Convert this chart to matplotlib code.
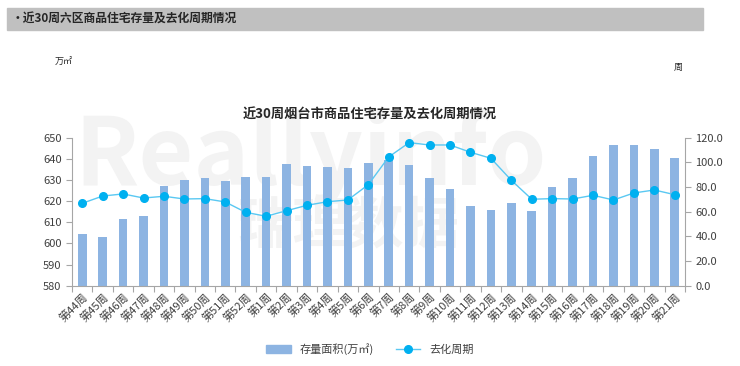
import numpy as np
import matplotlib
matplotlib.use("Agg")
import matplotlib.pyplot as plt
from matplotlib.lines import Line2D
from matplotlib.patches import Patch

plt.rcParams['font.family'] = ['Noto Sans CJK SC', 'DejaVu Sans']

weeks = ["第44周", "第45周", "第46周", "第47周", "第48周", "第49周", "第50周", "第51周",
         "第52周", "第1周", "第2周", "第3周", "第4周", "第5周", "第6周", "第7周", "第8周",
         "第9周", "第10周", "第11周", "第12周", "第13周", "第14周", "第15周", "第16周",
         "第17周", "第18周", "第19周", "第20周", "第21周"]
stock = [604.3, 602.9, 611.7, 612.8, 627.3, 630.0, 630.8, 629.4, 631.4, 631.4,
         637.6, 636.5, 636.1, 635.5, 638.0, 639.6, 637.2, 631.1, 625.7, 617.8,
         615.8, 619.3, 615.5, 626.7, 631.1, 641.4, 646.7, 646.4, 644.7, 640.3]
cycle = [66.8, 72.7, 74.4, 71.1, 72.5, 70.3, 70.6, 67.9, 59.5, 56.3,
         60.8, 65.2, 68.1, 69.5, 81.9, 104.4, 116.0, 114.1, 114.1, 108.2,
         103.3, 85.5, 70.1, 70.6, 70.3, 73.3, 69.5, 75.2, 77.6, 73.8]

bar_color = "#8db4e2"
line_color = "#00b0f0"
axis_color = "#a6a6a6"
text_color = "#404040"

fig = plt.figure(figsize=(7.4, 3.66), dpi=100)

# header strip
fig.patches.append(plt.Rectangle((7 / 740, 1 - 30 / 366), 696 / 740, 22 / 366,
                                 transform=fig.transFigure, color="#c0c0c0", zorder=0))
fig.text(12 / 740, 1 - 19 / 366, "•近30周六区商品住宅存量及去化周期情况", fontsize=8.5,
         fontweight="bold", color="#262626", va="center", ha="left")

# faint watermark, kept behind the axes
fig.text(0.42, 0.57, "Reallyinfo", fontsize=68, fontweight="bold", color="#f3f3f3",
         ha="center", va="center", zorder=-2)
fig.text(0.47, 0.38, "瑞理数据", fontsize=40, fontweight="bold", color="#f3f3f3",
         ha="center", va="center", zorder=-2)

ax = fig.add_axes([72 / 740, 1 - 285.7 / 366, 613 / 740, 148 / 366])
ax.patch.set_alpha(0)
x = np.arange(len(weeks))
ax.bar(x, np.array(stock) - 580, bottom=580, width=0.42, color=bar_color, zorder=2)
ax.set_ylim(580, 650)
ax.set_yticks(np.arange(580, 651, 10))
ax.set_xlim(-0.5, len(weeks) - 0.5)
ax.set_xticks(np.arange(-0.5, len(weeks), 1))
ax.set_xticklabels([])
ax.set_xticks(x, minor=True)
ax.set_xticklabels(weeks, minor=True, rotation=45, ha="right", rotation_mode="anchor",
                   fontsize=8, color=text_color)
ax.tick_params(axis="x", which="minor", length=0, pad=4)
ax.tick_params(axis="x", which="major", length=4, color=axis_color)
ax.tick_params(axis="y", labelsize=8, labelcolor=text_color, color=axis_color, length=4)
for s in ["top", "right"]:
    ax.spines[s].set_visible(False)
for s in ["left", "bottom"]:
    ax.spines[s].set_color(axis_color)

ax2 = ax.twinx()
ax2.plot(x, cycle, color="#5ac8f2", lw=1, marker="o", ms=5.5, mfc=line_color,
         mec=line_color, zorder=3)
ax2.set_ylim(0, 120)
ax2.set_yticks(np.arange(0, 121, 20))
ax2.set_yticklabels([f"{v:.1f}" for v in np.arange(0, 121, 20)])
ax2.tick_params(axis="y", labelsize=8, labelcolor=text_color, color=axis_color, length=4)
for s in ["top", "left", "bottom"]:
    ax2.spines[s].set_visible(False)
ax2.spines["right"].set_color(axis_color)

fig.text(0.5, 1 - 115 / 366, "近30周烟台市商品住宅存量及去化周期情况", fontsize=9.5,
         fontweight="bold", color="#262626", ha="center", va="center")
fig.text(55 / 740, 1 - 62 / 366, "万㎡", fontsize=6.5, color="#262626", ha="left", va="center")
fig.text(678 / 740, 1 - 67 / 366, "周", fontsize=6.5, color="#262626", ha="center", va="center")

handles = [Patch(color=bar_color),
           Line2D([], [], color="#5ac8f2", lw=1, marker="o", ms=5.5, mfc=line_color, mec=line_color)]
fig.legend(handles, ["存量面积(万㎡)", "去化周期"], loc="center", bbox_to_anchor=(0.5, 1 - 349 / 366),
           ncol=2, frameon=False, fontsize=8, handlelength=2.2, columnspacing=2,
           labelcolor=text_color)

fig.savefig("out.png", dpi=100)
